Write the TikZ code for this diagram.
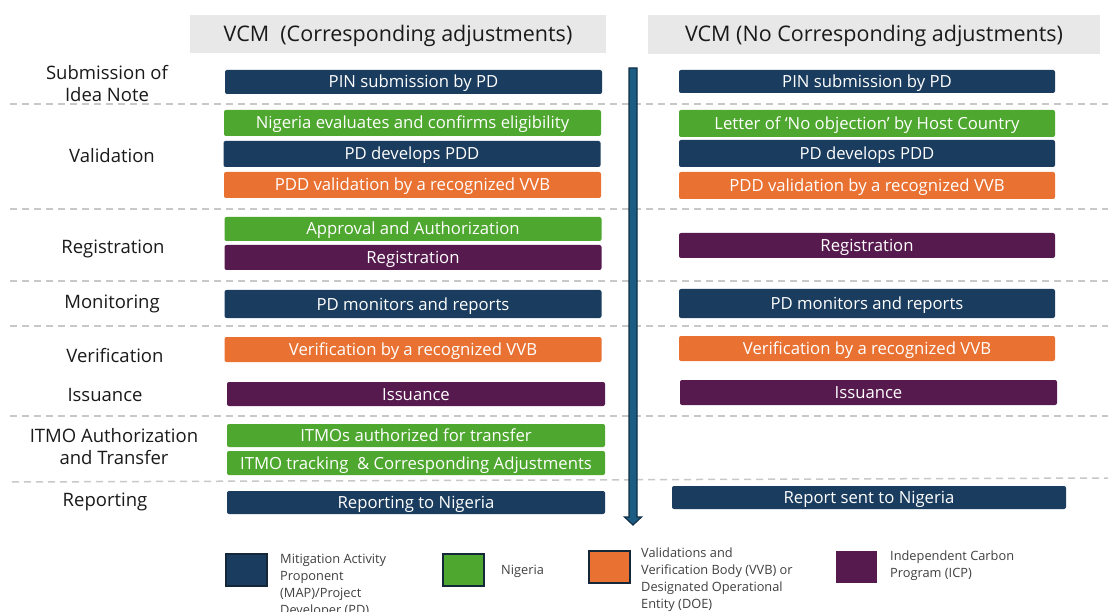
\documentclass[tikz,border=0pt]{standalone}
\usepackage{fontspec}
\setmainfont{Open Sans}
\definecolor{cblue}{HTML}{1A3C5E}
\definecolor{cgreen}{HTML}{4EA72E}
\definecolor{corange}{HTML}{E97132}
\definecolor{cpurple}{HTML}{571A4F}
\definecolor{hdr}{HTML}{E8E8E8}
\definecolor{dashc}{HTML}{C8C8C8}
\definecolor{arrfill}{HTML}{1D5C82}
\definecolor{arrline}{HTML}{0F3047}
\definecolor{lblc}{HTML}{1A1A1A}
\definecolor{legc}{HTML}{404040}
\definecolor{sqline}{HTML}{14283A}
\begin{document}
\begin{tikzpicture}[x=1pt,y=-1pt,
  bx/.style={rounded corners=2pt, text=white, font=\fontsize{16.7}{19}\selectfont, inner sep=0pt, text height=12pt, text depth=0pt, minimum width=377pt, anchor=center},
  lbl/.style={font=\fontsize{18.5}{22}\selectfont, text=lblc, align=center, inner sep=0pt, text height=13pt, text depth=0pt},
  hdrbox/.style={fill=hdr, inner sep=0pt, text=lblc, font=\fontsize{21.5}{24}\selectfont, text height=15pt, text depth=0pt},
  leg/.style={font=\fontsize{12.8}{17}\selectfont, text=legc, align=left, inner sep=0pt},
  sq/.style={minimum width=41pt, minimum height=32pt, inner sep=0pt},
  sepline/.style={dashc, line width=1.5pt, dash pattern=on 7pt off 5pt}]
\useasboundingbox (0,0) rectangle (1108,612);
\fill[white] (0,0) rectangle (1108,612);
% separators
\draw[sepline] (10,104) -- (1108,104);
\draw[sepline] (10,209) -- (1108,209);
\draw[sepline] (10,281) -- (1108,281);
\draw[sepline] (10,326) -- (1108,326);
\draw[sepline] (10,416) -- (1108,416);
\draw[sepline] (12,482) -- (1108,478);
% headers
\node[hdrbox, minimum width=416pt, minimum height=38pt] (h1) at (398,34) {VCM~~(Corresponding adjustments)};
\node[hdrbox, minimum width=452pt, minimum height=39pt] (h2) at (874,34.5) {VCM (No Corresponding adjustments)};
% left labels
\node[lbl] (l1) at (107,95) {Submission of\\Idea Note};
\node[lbl] (l2) at (112,156) {Validation};
\node[lbl] (l3) at (113,247) {Registration};
\node[lbl] (l4) at (112,302) {Monitoring};
\node[lbl] (l5) at (115,356) {Verification};
\node[lbl] (l6) at (105,395) {Issuance};
\node[lbl] (l7) at (114,457.5) {ITMO Authorization\\and Transfer};
\node[lbl] (l8) at (105,500) {Reporting};
% left column
\node[bx, fill=cblue, minimum height=24pt] (a1) at (413.5,82) {PIN submission by PD};
\node[bx, fill=cgreen, minimum height=26pt] (a2) at (412.5,123) {Nigeria evaluates and confirms eligibility};
\node[bx, fill=cblue, minimum height=26pt] (a3) at (412,154) {PD develops PDD};
\node[bx, fill=corange, minimum height=26pt] (a4) at (412.5,185) {PDD validation by a recognized VVB};
\node[bx, fill=cgreen, minimum height=24pt] (a5) at (413,229) {Approval and Authorization};
\node[bx, fill=cpurple, minimum height=25pt] (a6) at (413,257.5) {Registration};
\node[bx, fill=cblue, minimum height=28pt] (a7) at (413,304) {PD monitors and reports};
\node[bx, fill=corange, minimum height=25pt] (a8) at (413,349.5) {Verification by a recognized VVB};
\node[bx, fill=cpurple, minimum height=24pt, minimum width=378pt] (a9) at (416,394) {Issuance};
\node[bx, fill=cgreen, minimum height=23pt, minimum width=378pt] (a10) at (416,435.5) {ITMOs authorized for transfer};
\node[bx, fill=cgreen, minimum height=24pt, minimum width=378pt] (a11) at (416,463) {ITMO tracking~ \& Corresponding Adjustments};
\node[bx, fill=cblue, minimum height=23pt, minimum width=378pt] (a12) at (416,502.5) {Reporting to Nigeria};
% right column
\node[bx, fill=cblue, minimum height=23pt, minimum width=376pt] (b1) at (867,81.5) {PIN submission by PD};
\node[bx, fill=cgreen, minimum height=27pt, minimum width=376pt] (b2) at (867,123.5) {Letter of ‘No objection’ by Host Country};
\node[bx, fill=cblue, minimum height=27pt, minimum width=376pt] (b3) at (867,153.5) {PD develops PDD};
\node[bx, fill=corange, minimum height=27pt, minimum width=376pt] (b4) at (867,185.5) {PDD validation by a recognized VVB};
\node[bx, fill=cpurple, minimum height=25pt, minimum width=376pt] (b5) at (867,245.5) {Registration};
\node[bx, fill=cblue, minimum height=29pt, minimum width=376pt] (b6) at (867,303.5) {PD monitors and reports};
\node[bx, fill=corange, minimum height=25pt, minimum width=376pt] (b7) at (867,348.5) {Verification by a recognized VVB};
\node[bx, fill=cpurple, minimum height=25pt, minimum width=377pt] (b8) at (868.5,392.5) {Issuance};
\node[bx, fill=cblue, minimum height=23pt, minimum width=394pt] (b9) at (869,497.5) {Report sent to Nigeria};
% timeline arrow
\coordinate (atop) at (633,68);
\coordinate (abot) at (633,525);
\filldraw[fill=arrfill, draw=arrline, line width=1.2pt, line join=miter]
  ([xshift=-4pt]atop) -- ([xshift=4pt]atop) -- ([xshift=4pt,yshift=8pt]abot) -- ([xshift=8.5pt,yshift=8pt]abot)
  -- (abot) -- ([xshift=-8.5pt,yshift=8pt]abot) -- ([xshift=-4pt,yshift=8pt]abot) -- cycle;
% legend
\node[sq, fill=cblue, draw=sqline, line width=2pt] (s1) at (246,569.5) {};
\node[leg, anchor=north west] (t1) at (280,553.5) {Mitigation Activity\\Proponent\\(MAP)/Project\\Developer (PD)};
\node[sq, fill=cgreen, draw=sqline, line width=2pt] (s2) at (463,569.5) {};
\node[leg, anchor=west] (t2) at (501,571) {Nigeria};
\node[sq, fill=corange, draw=sqline, line width=2pt] (s3) at (609.5,567) {};
\node[leg, anchor=north west] (t3) at (641,548) {Validations and\\Verification Body (VVB) or\\Designated Operational\\Entity (DOE)};
\node[sq, fill=cpurple] (s4) at (856.5,566.5) {};
\node[leg, anchor=north west] (t4) at (890,551) {Independent Carbon\\Program (ICP)};
\end{tikzpicture}
\end{document}
